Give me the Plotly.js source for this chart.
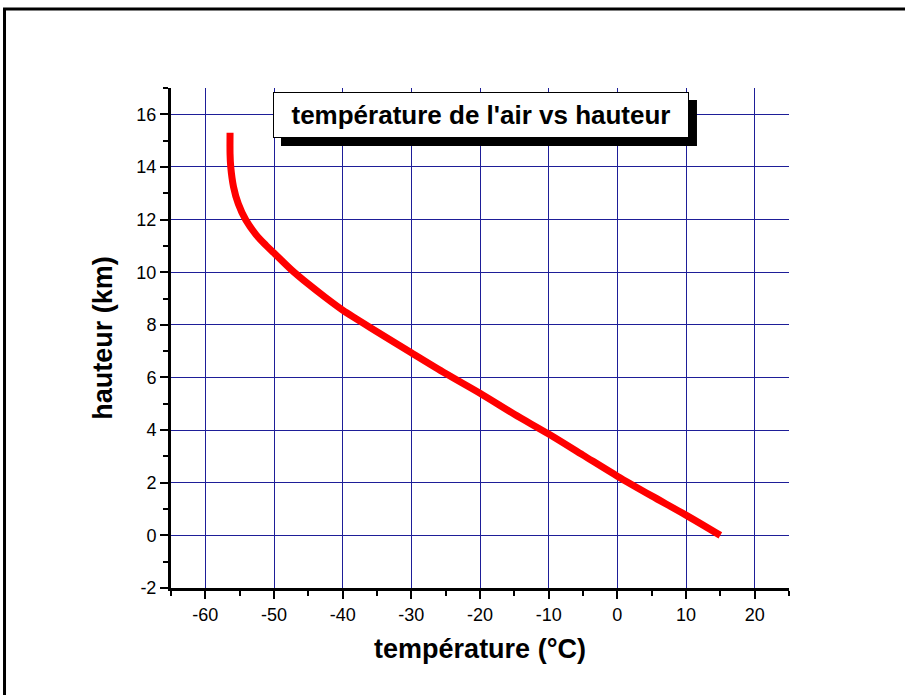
<!DOCTYPE html>
<html>
<head>
<meta charset="utf-8">
<script src="https://cdn.plot.ly/plotly-3.0.1.min.js"></script>
<style>
html,body{margin:0;padding:0;background:#fff;}
#chart{width:905px;height:695px;}
</style>
</head>
<body>
<div id="chart"></div>
<script>
// Data
const temperature = [-56.4, -56.4, -56.3, -55.9, -55.2, -54.1, -52.6, -51.2, -50.0, -47.5, -45.0, -42.5, -40.0, -35.0, -30.0, -25.0, -20.0, -15.0, -10.0, -5.0, 0.0, 5.0, 10.0, 15.0];
const hauteur =     [15.3, 14.5, 14.0, 13.25, 12.6, 11.98, 11.42, 11.03, 10.73, 10.1, 9.55, 9.04, 8.56, 7.74, 6.94, 6.15, 5.4, 4.6, 3.85, 3.05, 2.25, 1.5, 0.77, 0.0];

const xTickVals = [-60, -50, -40, -30, -20, -10, 0, 10, 20];
const xTickText = ["-60", "-50", "-40", "-30", "-20", "-10", "0", "10", "20"];
const yTickVals = [-2, 0, 2, 4, 6, 8, 10, 12, 14, 16];
const yTickText = ["-2", "0", "2", "4", "6", "8", "10", "12", "14", "16"];

const chartTitle = "température de l'air vs hauteur";
const xTitle = "température (°C)";
const yTitle = "hauteur (km)";

const FONT = "Liberation Sans, Arial, sans-serif";
const GRID = "#1e1e98";

const trace = {
  x: temperature,
  y: hauteur,
  type: 'scatter',
  mode: 'lines',
  line: {color: '#ff0000', width: 7, shape: 'spline', smoothing: 0.8},
  hoverinfo: 'x+y'
};

const layout = {
  width: 905,
  height: 695,
  margin: {l: 171, r: 116, t: 88, b: 107},
  paper_bgcolor: '#ffffff',
  plot_bgcolor: '#ffffff',
  showlegend: false,
  font: {family: FONT, color: '#000', size: 18},
  xaxis: {
    range: [-65, 25],
    tickmode: 'array', tickvals: xTickVals, ticktext: xTickText,
    showgrid: true, gridcolor: GRID, gridwidth: 1,
    zeroline: false,
    showline: true, linecolor: '#000', linewidth: 3,
    ticks: 'outside', ticklen: 8, tickwidth: 2, tickcolor: '#000',
    minor: {dtick: 5, tick0: 0, ticks: 'outside', ticklen: 5, tickwidth: 2, tickcolor: '#000', showgrid: false},
    tickfont: {family: FONT, size: 18, color: '#000'},
    title: {text: xTitle, font: {family: FONT, size: 27, color: '#000', weight: 'bold'}, standoff: 16},
    fixedrange: true
  },
  yaxis: {
    range: [-2, 17],
    tickmode: 'array', tickvals: yTickVals, ticktext: yTickText,
    showgrid: true, gridcolor: GRID, gridwidth: 1,
    zeroline: false,
    showline: true, linecolor: '#000', linewidth: 3,
    ticks: 'outside', ticklen: 8, tickwidth: 2, tickcolor: '#000',
    minor: {dtick: 1, tick0: 0, ticks: 'outside', ticklen: 5, tickwidth: 2, tickcolor: '#000', showgrid: false},
    tickfont: {family: FONT, size: 18, color: '#000'},
    title: {text: yTitle, font: {family: FONT, size: 27, color: '#000', weight: 'bold'}, standoff: 16},
    fixedrange: true
  },
  shapes: [
    {type: 'line', xref: 'paper', yref: 'paper', x0: -0.2694, x1: -0.2694, y0: 1.158, y1: -0.4, line: {color: '#000', width: 3}},
    {type: 'line', xref: 'paper', yref: 'paper', x0: -0.2718, x1: 1.3, y0: 1.158, y1: 1.158, line: {color: '#000', width: 3}},
    // drop shadow of the title box
    {type: 'rect', xref: 'paper', yref: 'paper', x0: 0.178, x1: 0.8511, y0: 0.884, y1: 0.976, fillcolor: '#000', line: {width: 0}, layer: 'above'}
  ],
  annotations: [
    {
      text: chartTitle, xref: 'paper', yref: 'paper', x: 0.5016, y: 0.946,
      xanchor: 'center', yanchor: 'middle', showarrow: false,
      width: 412, height: 42,
      bgcolor: '#fff', bordercolor: '#000', borderwidth: 1, borderpad: 1,
      font: {family: FONT, size: 26, color: '#000', weight: 'bold'}
    }
  ]
};

Plotly.newPlot('chart', [trace], layout, {displayModeBar: false, staticPlot: true});
</script>
</body>
</html>
